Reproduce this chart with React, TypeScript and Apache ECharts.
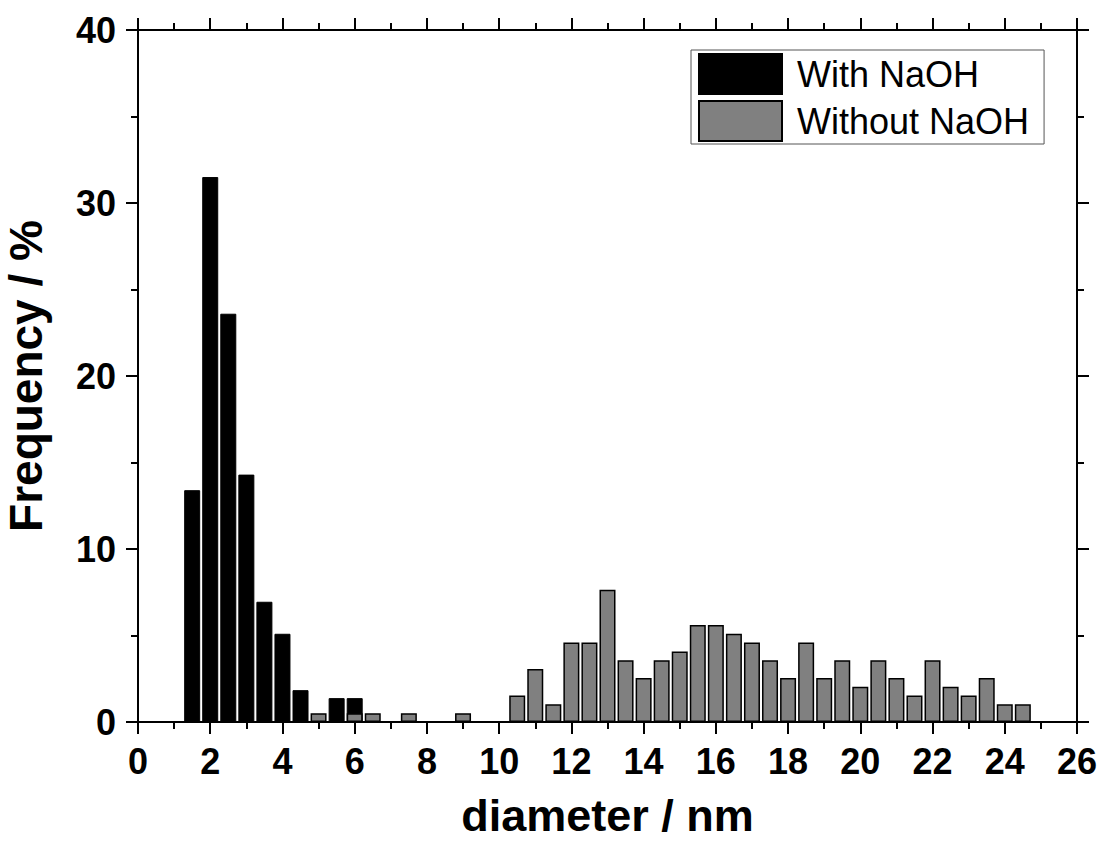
import React, { useEffect, useRef } from "react";
import * as echarts from "echarts";

const withX = [1.5, 2.0, 2.5, 3.0, 3.5, 4.0, 4.5, 5.5, 6.0];
const withY = [13.4, 31.5, 23.6, 14.3, 6.95, 5.1, 1.84, 1.38, 1.38];

const withoutX = [5.0, 6.0, 6.5, 7.5, 9.0, 10.5, 11.0, 11.5, 12.0, 12.5, 13.0, 13.5, 14.0, 14.5, 15.0, 15.5, 16.0, 16.5, 17.0, 17.5, 18.0, 18.5, 19.0, 19.5, 20.0, 20.5, 21.0, 21.5, 22.0, 22.5, 23.0, 23.5, 24.0, 24.5];
const withoutY = [0.51, 0.51, 0.51, 0.51, 0.51, 1.53, 3.06, 1.02, 4.59, 4.59, 7.65, 3.57, 2.55, 3.57, 4.08, 5.61, 5.61, 5.1, 4.59, 3.57, 2.55, 4.59, 2.55, 3.57, 2.04, 3.57, 2.55, 1.53, 3.57, 2.04, 1.53, 2.55, 1.02, 1.02];

const seriesNames = ["With NaOH", "Without NaOH"];
const xTitle = "diameter / nm";
const yTitle = "Frequency / %";

const FONT = "'Liberation Sans', Arial, sans-serif";

export default function App() {
  const ref = useRef<HTMLDivElement>(null);
  useEffect(() => {
    if (!ref.current) return;
    const chart = echarts.init(ref.current, null, { renderer: "svg" });
    const axisLine = { show: true, onZero: false, lineStyle: { color: "#000", width: 2 } };
    const axisTick = { show: true, length: 12, lineStyle: { color: "#000", width: 2 } };
    const minorTick = { show: true, splitNumber: 2, length: 7, lineStyle: { color: "#000", width: 2 } };
    const labelStyle = { color: "#000", fontFamily: FONT, fontWeight: "bold" as const, fontSize: 36 };
    const yTitleStyle = { color: "#000", fontFamily: FONT, fontWeight: "bold" as const, fontSize: 46, lineHeight: 44 };
    const xTitleStyle = { color: "#000", fontFamily: FONT, fontWeight: "bold" as const, fontSize: 45, lineHeight: 38 };
    chart.setOption({
      animation: false,
      backgroundColor: "#fff",
      grid: { left: 138, right: 25, top: 30, bottom: 121, containLabel: false, outerBoundsMode: "none" },
      legend: {
        show: true,
        orient: "vertical",
        left: 691,
        top: 50,
        padding: [3, 15, 2, 7],
        itemGap: 5,
        itemWidth: 83,
        itemHeight: 40,
        borderColor: "#555",
        borderWidth: 1,
        icon: "rect",
        textStyle: { color: "#000", fontFamily: FONT, fontSize: 36, padding: [0, 0, 0, 10] },
        data: seriesNames,
      },
      xAxis: [
        {
          type: "value", min: 0, max: 26, interval: 2, position: "bottom",
          axisLine, axisTick, minorTick, splitLine: { show: false },
          axisLabel: { ...labelStyle, margin: 21 },
          name: xTitle, nameLocation: "middle", nameGap: 74,
          nameTextStyle: xTitleStyle,
        },
        {
          type: "value", min: 0, max: 26, interval: 2, position: "top",
          axisLine, axisTick, minorTick, splitLine: { show: false },
          axisLabel: { show: false },
        },
      ],
      yAxis: [
        {
          type: "value", min: 0, max: 40, interval: 10, position: "left",
          axisLine, axisTick, minorTick, splitLine: { show: false },
          axisLabel: { ...labelStyle, margin: 22 },
          name: yTitle, nameLocation: "middle", nameGap: 90,
          nameTextStyle: yTitleStyle,
        },
        {
          type: "value", min: 0, max: 40, interval: 10, position: "right",
          axisLine, axisTick, minorTick, splitLine: { show: false },
          axisLabel: { show: false },
        },
      ],
      series: [
        {
          name: seriesNames[0], type: "bar", xAxisIndex: 0, yAxisIndex: 0,
          barWidth: 16, barGap: "-100%",
          itemStyle: { color: "#000", borderColor: "#000", borderWidth: 1 },
          data: withX.map((x, i) => [x, withY[i]]),
        },
        {
          name: seriesNames[1], type: "bar", xAxisIndex: 0, yAxisIndex: 0,
          barWidth: 16, barGap: "-100%",
          itemStyle: { color: "#808080", borderColor: "#000", borderWidth: 1.5 },
          data: withoutX.map((x, i) => [x, withoutY[i]]),
        },
      ],
    });
    return () => chart.dispose();
  }, []);
  return (
    <div
      ref={ref}
      style={{ position: "absolute", left: 0, top: 0, width: 1102, height: 843, background: "#fff" }}
    />
  );
}
